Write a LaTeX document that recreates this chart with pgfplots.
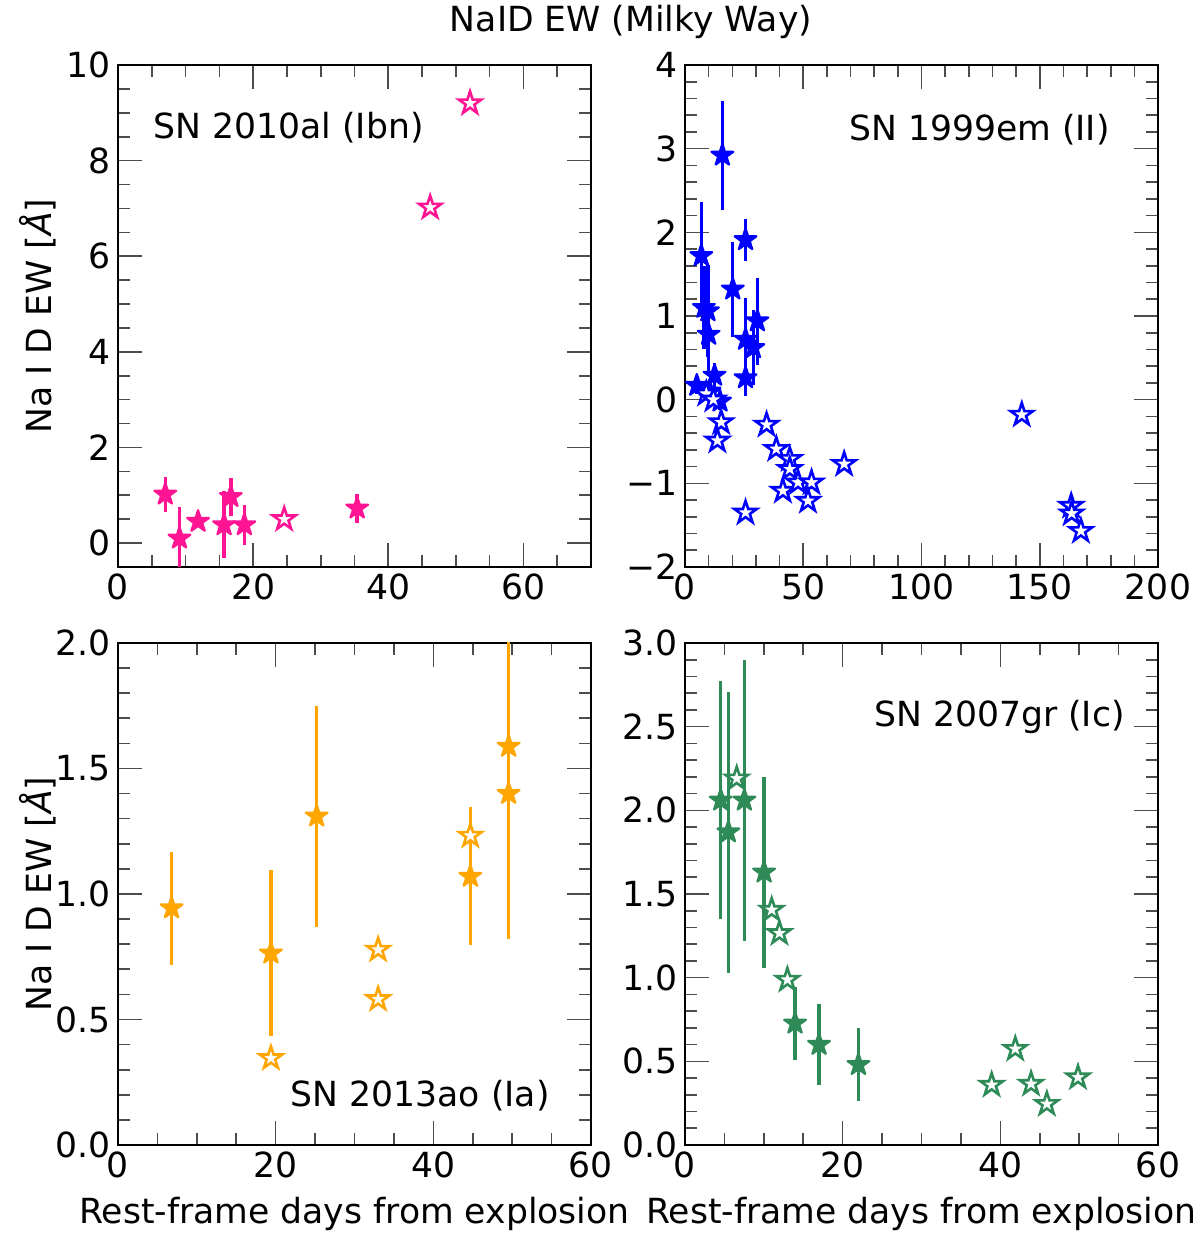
\documentclass[border=0pt]{standalone}
\usepackage{fontspec}
\setmainfont{DejaVu Sans}
\usepackage{pgfplots}
\pgfplotsset{compat=1.18}
\definecolor{dpink}{HTML}{FF1493}
\definecolor{blu}{HTML}{0000FF}
\definecolor{orng}{HTML}{FFA500}
\definecolor{sgreen}{HTML}{2E8B57}
\pgfdeclareplotmark{fstar}{%
  \pgfpathmoveto{\pgfpointpolar{90}{\pgfplotmarksize}}%
  \pgfpathlineto{\pgfpointpolar{126}{0.382*\pgfplotmarksize}}%
  \pgfpathlineto{\pgfpointpolar{162}{\pgfplotmarksize}}%
  \pgfpathlineto{\pgfpointpolar{198}{0.382*\pgfplotmarksize}}%
  \pgfpathlineto{\pgfpointpolar{234}{\pgfplotmarksize}}%
  \pgfpathlineto{\pgfpointpolar{270}{0.382*\pgfplotmarksize}}%
  \pgfpathlineto{\pgfpointpolar{306}{\pgfplotmarksize}}%
  \pgfpathlineto{\pgfpointpolar{342}{0.382*\pgfplotmarksize}}%
  \pgfpathlineto{\pgfpointpolar{18}{\pgfplotmarksize}}%
  \pgfpathlineto{\pgfpointpolar{54}{0.382*\pgfplotmarksize}}%
  \pgfpathclose
  \pgfusepathqfillstroke
}
\newcommand{\fs}{\fontsize{17.3}{20}\selectfont}
\pgfplotsset{
  panel/.style={
    width=236.5pt, height=251pt, scale only axis, anchor=south west,
    axis line style={line width=1pt, black},
    major tick length=12pt, minor tick length=6pt,
    every tick/.append style={black!70, line width=0.8pt},
    tick align=inside,
    tick label style={font=\fs},
    xtick pos=both, ytick pos=both,
    xticklabel pos=bottom, yticklabel pos=left,
  },
  filled/.style={only marks, mark=fstar, mark size=5.7pt, color=#1,
    mark options={fill=#1, draw=#1, line width=1.1pt, line join=round},
    error bars/.cd, y dir=both, y explicit, error mark=none,
    error bar style={line width=1.7pt, #1}},
  open/.style={only marks, mark=fstar, mark size=5.9pt, color=#1,
    mark options={fill=white, draw=#1, line width=1.3pt}},
}
\begin{document}
\begin{tikzpicture}
\path[use as bounding box] (0,0) rectangle (600pt,618.5pt);
% ---------------- TL
\begin{axis}[panel, at={(59pt,335pt)},
  xmin=0, xmax=70, ymin=-0.5, ymax=10,
  xtick={0,20,40,60}, xticklabels={0,20,40,60},
  minor xtick={5,10,15,25,30,35,45,50,55,65,70},
  ytick={0,2,4,6,8,10}, yticklabels={0,2,4,6,8,10},
  minor ytick={-0.5,0.5,1,1.5,2.5,3,3.5,4.5,5,5.5,6.5,7,7.5,8.5,9,9.5}]
\addplot[filled=dpink] table[x index=0, y index=1, y error index=2] {
7.0 1.02 0.36
9.1 0.10 0.65
11.85 0.45 0.12
15.7 0.38 0.70
16.7 0.97 0.40
18.7 0.38 0.42
35.4 0.73 0.30
};
\addplot[open=dpink] table {
24.6 0.50
46.2 7.02
52.1 9.20
};
\end{axis}
% ---------------- TR
\begin{axis}[panel, at={(342.5pt,335pt)},
  xmin=0, xmax=200, ymin=-2, ymax=4,
  xtick={0,50,100,150,200}, xticklabels={0,50,100,150,200},
  minor xtick={10,20,30,40,60,70,80,90,110,120,130,140,160,170,180,190},
  ytick={-2,-1,0,1,2,3,4}, yticklabels={−2,−1,0,1,2,3,4},
  minor ytick={-1.8,-1.6,-1.4,-1.2,-0.8,-0.6,-0.4,-0.2,0.2,0.4,0.6,0.8,1.2,1.4,1.6,1.8,2.2,2.4,2.6,2.8,3.2,3.4,3.6,3.8}]
\addplot[filled=blu] table[x index=0, y index=1, y error index=2] {
15.8 2.92 0.65
6.9 1.72 0.64
20.2 1.32 0.57
25.6 1.91 0.25
30.6 0.94 0.52
25.6 0.72 0.50
28.9 0.62 0.45
25.6 0.26 0.22
8.0 1.10 0.50
9.7 1.06 0.55
10.0 0.78 0.45
5.0 0.17 0.10
12.5 0.29 0.15
10.4 0.10 0.10
14.8 -0.02 0.10
};
\addplot[open=blu] table {
9.0 0.07
12.0 0.00
15.3 -0.27
13.7 -0.49
34.5 -0.30
38.6 -0.59
44.3 -0.71
44.3 -0.83
41.4 -1.09
47.8 -0.99
53.5 -0.99
52.0 -1.21
25.6 -1.35
67.3 -0.77
142.4 -0.18
163.3 -1.27
163.5 -1.36
167.4 -1.57
};
\end{axis}
% ---------------- BL
\begin{axis}[panel, at={(59pt,46pt)},
  xmin=0, xmax=60, ymin=0, ymax=2,
  xtick={0,20,40,60}, xticklabels={0,20,40,60},
  minor xtick={5,10,15,25,30,35,45,50,55},
  ytick={0,0.5,1,1.5,2}, yticklabels={0.0,0.5,1.0,1.5,2.0},
  minor ytick={0.1,0.2,0.3,0.4,0.6,0.7,0.8,0.9,1.1,1.2,1.3,1.4,1.6,1.7,1.8,1.9}]
\addplot[filled=orng] table[x index=0, y index=1, y error index=2] {
6.8 0.944 0.225
19.4 0.764 0.33
25.2 1.31 0.44
44.7 1.07 0.275
49.55 1.588 0.50
49.55 1.40 0.58
};
\addplot[open=orng] table {
19.4 0.346
33.0 0.778
33.0 0.581
44.7 1.232
};
\end{axis}
% ---------------- BR
\begin{axis}[panel, at={(342.5pt,46pt)},
  xmin=0, xmax=60, ymin=0, ymax=3,
  xtick={0,20,40,60}, xticklabels={0,20,40,60},
  minor xtick={5,10,15,25,30,35,45,50,55},
  ytick={0,0.5,1,1.5,2,2.5,3}, yticklabels={0.0,0.5,1.0,1.5,2.0,2.5,3.0},
  minor ytick={0.1,0.2,0.3,0.4,0.6,0.7,0.8,0.9,1.1,1.2,1.3,1.4,1.6,1.7,1.8,1.9,2.1,2.2,2.3,2.4,2.6,2.7,2.8,2.9}]
\addplot[filled=sgreen] table[x index=0, y index=1, y error index=2] {
4.53 2.06 0.71
5.5 1.87 0.84
7.53 2.06 0.84
10.03 1.63 0.57
13.96 0.727 0.22
17.0 0.60 0.24
22.0 0.48 0.22
};
\addplot[open=sgreen] table {
6.56 2.19
11.0 1.405
11.98 1.266
12.99 0.987
38.9 0.359
41.9 0.574
43.9 0.365
45.9 0.245
49.85 0.404
};
\end{axis}
% ---------------- texts
\node[anchor=base, inner sep=0pt, font=\fs] at (315.5pt,602.5pt) {NaID EW (Milky Way)};
\node[anchor=base west, inner sep=0pt, font=\fs] at (76.7pt,549.3pt) {SN 2010al (Ibn)};
\node[anchor=base east, inner sep=0pt, font=\fs] at (555pt,548pt) {SN 1999em (II)};
\node[anchor=base east, inner sep=0pt, font=\fs] at (275pt,65pt) {SN 2013ao (Ia)};
\node[anchor=base east, inner sep=0pt, font=\fs] at (562.5pt,255pt) {SN 2007gr (Ic)};
\node[rotate=90, inner sep=0pt, font=\fs] at (19pt,460.5pt) {Na I D EW [\textit{Å}]};
\node[rotate=90, inner sep=0pt, font=\fs] at (19pt,171.5pt) {Na I D EW [\textit{Å}]};
\node[anchor=base, inner sep=0pt, font=\fs] at (177.25pt,6.5pt) {Rest-frame days from explosion};
\node[anchor=base, inner sep=0pt, font=\fs] at (460.75pt,6.5pt) {Rest-frame days from explosion};
\end{tikzpicture}
\end{document}
